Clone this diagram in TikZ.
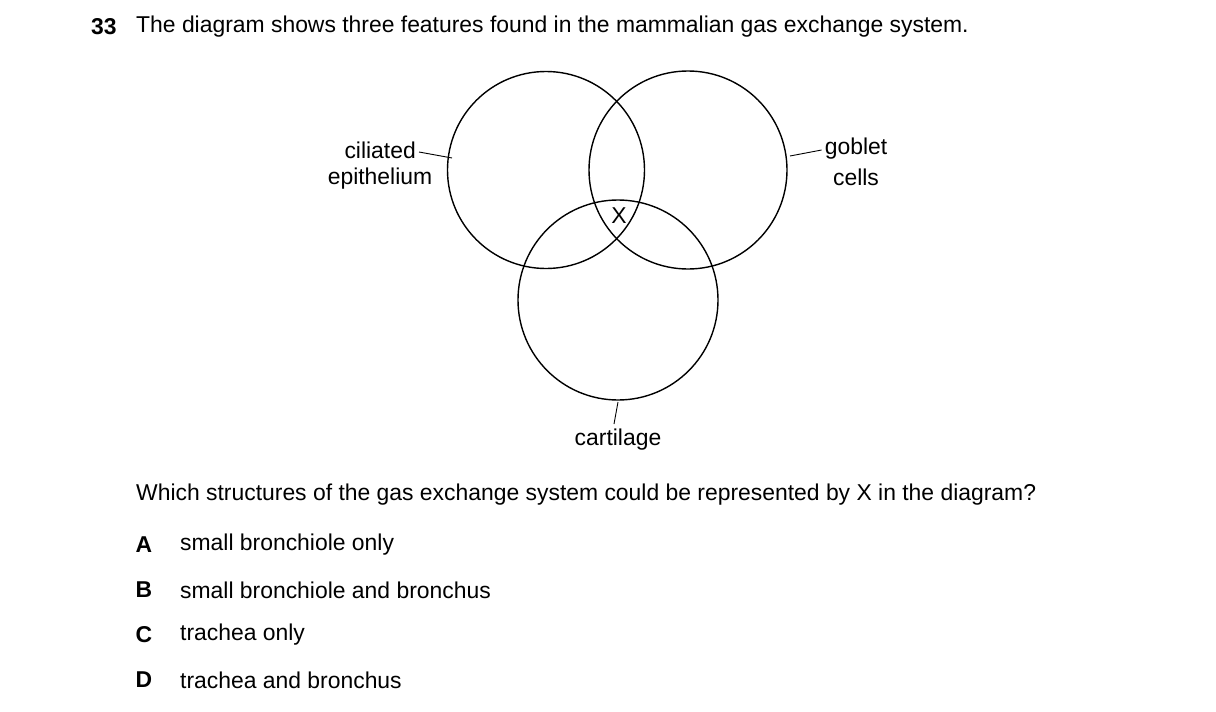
\documentclass[tikz,border=0pt]{standalone}
\usepackage{fontspec}
\setmainfont{Liberation Sans}
\begin{document}
\begin{tikzpicture}[x=1pt,y=-1pt,
  txt/.style={font=\fontsize{22.9}{27}\selectfont,inner sep=0pt},
  btxt/.style={font=\fontsize{22.9}{27}\selectfont\bfseries,inner sep=0pt},
  circ/.style={draw,line width=1.4pt},
  lead/.style={draw,line width=0.9pt}]
\useasboundingbox (0,0) rectangle (1216,712);
\node[btxt,anchor=west] (num) at (91,27) {33};
\node[txt,anchor=west] (title) at (136,27) {The diagram shows three features found in the mammalian gas exchange system.};
\node[circ,circle,minimum size=197pt,inner sep=0pt] (cl) at (546,170) {};
\node[circ,circle,minimum size=198pt,inner sep=0pt] (cr) at (688,170) {};
\node[circ,circle,minimum size=200pt,inner sep=0pt] (cb) at (618,300) {};
\node[txt] (x) at (619,216) {X};
\node[txt,anchor=east] (cil) at (416,150) {ciliated};
\node[txt] (epi) at (380,179) {epithelium};
\coordinate (cile) at (452,158);
\draw[lead] (cil.east)++(3,2) -- (cile);
\node[txt] (gob) at (856,149) {goblet};
\node[txt] (cel) at (856,177) {cells};
\coordinate (gobe) at (790,156);
\draw[lead] (gob.west)++(-3,1) -- (gobe);
\node[txt] (car) at (618,440) {cartilage};
\coordinate (care) at (618,402);
\draw[lead] (care) -- (614,424);
\node[txt,anchor=west] (q) at (136,495) {Which structures of the gas exchange system could be represented by X in the diagram?};
\node[btxt] (la) at (144,545) {A};
\node[txt,anchor=west] (ta) at (180,545) {small bronchiole only};
\node[btxt] (lb) at (144,590) {B};
\node[txt,anchor=west] (tb) at (180,590) {small bronchiole and bronchus};
\node[btxt] (lc) at (144,635) {C};
\node[txt,anchor=west] (tc) at (180,635) {trachea only};
\node[btxt] (ld) at (144,680) {D};
\node[txt,anchor=west] (td) at (180,680) {trachea and bronchus};
\end{tikzpicture}
\end{document}
